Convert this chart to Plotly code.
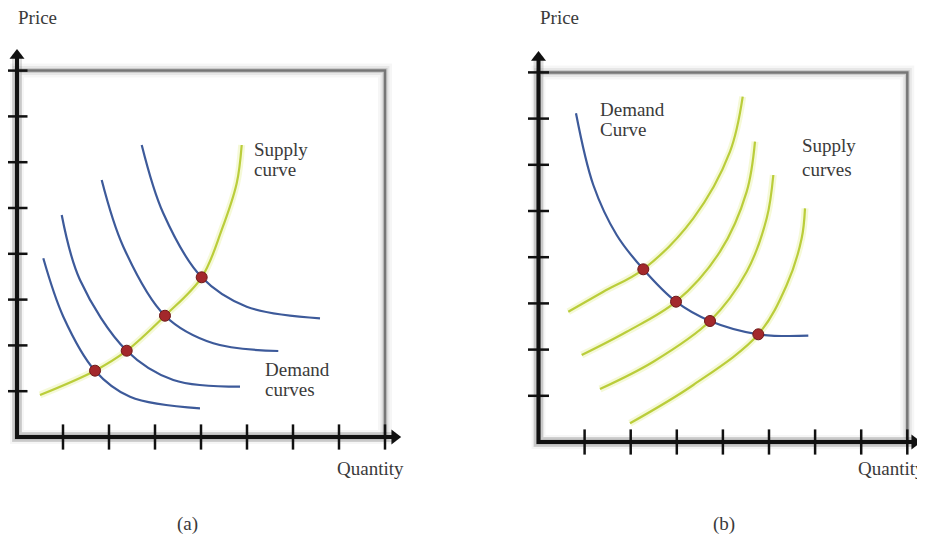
import plotly.graph_objects as go

# The page adds an 8px body margin, so the figure is drawn 8px smaller and
# all layout positions below are page pixels shifted by that margin.
PAGE_W, PAGE_H = 925, 538
OFF = 8
W, H = PAGE_W - OFF, PAGE_H - OFF

# ---------------- data (tick units) ----------------
tick_vals = [1, 2, 3, 4, 5, 6, 7, 8]

# Panel (a): one supply curve, four demand curves
supply_a_x = [0.50, 1.696, 2.385, 3.217, 4.015, 4.450, 4.776, 4.885]
supply_a_y = [0.917, 1.448, 1.884, 2.648, 3.487, 4.520, 5.539, 6.376]

d1_a_x = [0.572, 1.007, 1.696, 2.457, 3.978]
d1_a_y = [3.902, 2.627, 1.448, 0.880, 0.627]
d2_a_x = [0.972, 1.370, 2.385, 3.398, 4.848]
d2_a_y = [4.847, 3.428, 1.884, 1.245, 1.098]
d3_a_x = [1.841, 2.311, 3.217, 4.267, 5.680]
d3_a_y = [5.611, 4.155, 2.648, 2.046, 1.878]
d4_a_x = [2.711, 3.180, 4.015, 4.993, 6.587]
d4_a_y = [6.376, 4.884, 3.487, 2.845, 2.592]

eq_a_x = [1.696, 2.385, 3.217, 4.015]
eq_a_y = [1.448, 1.884, 2.648, 3.487]

# Panel (b): one demand curve, four supply curves
demand_b_x = [0.813, 1.189, 1.696, 2.273, 2.983, 3.720, 4.768, 5.853]
demand_b_y = [7.115, 5.563, 4.481, 3.738, 3.037, 2.619, 2.331, 2.301]

s1_b_x = [0.646, 1.406, 2.273, 3.358, 4.154, 4.430]
s1_b_y = [2.820, 3.253, 3.738, 4.842, 6.284, 7.474]
s2_b_x = [0.937, 1.913, 2.983, 3.937, 4.516, 4.696]
s2_b_y = [1.883, 2.387, 3.037, 4.119, 5.418, 6.500]
s3_b_x = [1.334, 2.490, 3.720, 4.516, 4.950, 5.094]
s3_b_y = [1.147, 1.738, 2.619, 3.686, 4.842, 5.779]
s4_b_x = [1.985, 3.358, 4.768, 5.384, 5.709, 5.781]
s4_b_y = [0.405, 1.234, 2.331, 3.398, 4.409, 5.058]

eq_b_x = [2.273, 2.983, 3.720, 4.768]
eq_b_y = [3.738, 3.037, 2.619, 2.331]

BOX = 8
Y_ARROW_A, X_ARROW_A = 8.45, 8.33
Y_ARROW_B, X_ARROW_B = 8.44, 8.28

# ---------------- styles ----------------
BLUE = "#3d5a9a"
GREEN = "#bacd3a"
GLOW = "rgba(225,238,140,0.35)"
RED = "#a3282b"
TEXT = "#3a3a3a"
FONT = "Liberation Serif"

fig = go.Figure()


def add_panel(xa, ya, y_tip, x_tip, blue_curves, green_curves, eq_x, eq_y):
    # axis halo
    fig.add_trace(go.Scatter(x=[0, 0, x_tip - 0.1], y=[y_tip - 0.1, 0, 0], mode="lines",
                             line=dict(color="rgba(0,0,0,0.13)", width=10),
                             xaxis=xa, yaxis=ya, hoverinfo="skip"))
    # axes
    fig.add_trace(go.Scatter(x=[0, 0, x_tip - 0.12], y=[y_tip - 0.12, 0, 0], mode="lines",
                             line=dict(color="#111111", width=4),
                             xaxis=xa, yaxis=ya, hoverinfo="skip"))
    fig.add_trace(go.Scatter(x=[0], y=[y_tip - 0.12], mode="markers",
                             marker=dict(symbol="triangle-up", size=13, color="#111111"),
                             xaxis=xa, yaxis=ya, hoverinfo="skip"))
    fig.add_trace(go.Scatter(x=[x_tip - 0.12], y=[0], mode="markers",
                             marker=dict(symbol="triangle-right", size=13, color="#111111"),
                             xaxis=xa, yaxis=ya, hoverinfo="skip"))
    # ticks
    fig.add_trace(go.Scatter(x=[0] * len(tick_vals), y=tick_vals, mode="markers",
                             marker=dict(symbol="line-ew", size=15,
                                         line=dict(color="#111111", width=2.5)),
                             xaxis=xa, yaxis=ya, hoverinfo="skip"))
    fig.add_trace(go.Scatter(x=tick_vals, y=[0] * len(tick_vals), mode="markers",
                             marker=dict(symbol="line-ns", size=18,
                                         line=dict(color="#111111", width=2.5)),
                             xaxis=xa, yaxis=ya, hoverinfo="skip"))
    # curves
    for cx, cy in green_curves:
        fig.add_trace(go.Scatter(x=cx, y=cy, mode="lines",
                                 line=dict(color=GLOW, width=7, shape="spline", smoothing=1),
                                 xaxis=xa, yaxis=ya, hoverinfo="skip"))
        fig.add_trace(go.Scatter(x=cx, y=cy, mode="lines",
                                 line=dict(color=GREEN, width=2.2, shape="spline", smoothing=1),
                                 xaxis=xa, yaxis=ya, hoverinfo="skip"))
    for cx, cy in blue_curves:
        fig.add_trace(go.Scatter(x=cx, y=cy, mode="lines",
                                 line=dict(color=BLUE, width=2.2, shape="spline", smoothing=1),
                                 xaxis=xa, yaxis=ya, hoverinfo="skip"))
    fig.add_trace(go.Scatter(x=eq_x, y=eq_y, mode="markers",
                             marker=dict(size=11, color=RED, line=dict(color="#6e1818", width=1)),
                             xaxis=xa, yaxis=ya, hoverinfo="skip"))
    # box with soft shadow
    for w, c in [(14, "rgba(0,0,0,0.035)"), (9, "rgba(0,0,0,0.06)"),
                 (5, "rgba(0,0,0,0.12)"), (2.5, "rgba(50,50,50,0.55)")]:
        fig.add_shape(type="rect", xref=xa, yref=ya, x0=0, y0=0, x1=BOX, y1=BOX,
                      line=dict(color=c, width=w), fillcolor="rgba(0,0,0,0)", layer="below")


add_panel("x", "y", Y_ARROW_A, X_ARROW_A,
          [(d1_a_x, d1_a_y), (d2_a_x, d2_a_y), (d3_a_x, d3_a_y), (d4_a_x, d4_a_y)],
          [(supply_a_x, supply_a_y)], eq_a_x, eq_a_y)
add_panel("x2", "y2", Y_ARROW_B, X_ARROW_B,
          [(demand_b_x, demand_b_y)],
          [(s1_b_x, s1_b_y), (s2_b_x, s2_b_y), (s3_b_x, s3_b_y), (s4_b_x, s4_b_y)],
          eq_b_x, eq_b_y)


def label(text, px, py, size=19, anchor="left"):
    # px, py: page pixels
    fig.add_annotation(text=text, x=(px - OFF) / W, y=1 - (py - OFF) / H,
                       xref="paper", yref="paper",
                       xanchor=anchor, yanchor="middle", showarrow=False, borderpad=0,
                       font=dict(family=FONT, size=size, color=TEXT))


label("Price", 17, 18)
label("Price", 539, 18)
label("Quantity", 336, 468)
label("Quantity", 857, 468)
label("Supply", 253, 149)
label("curve", 253, 169)
label("Demand", 264, 369)
label("curves", 264, 389)
label("Demand", 599, 110)
label("Curve", 599, 130)
label("Supply", 801, 146)
label("curves", 801, 169)
label("(a)", 187, 524, 19, "center")
label("(b)", 724, 524, 19, "center")

# axis ranges so that tick units land on the measured page pixels
SPLIT = 462 - OFF                      # figure px where the panels meet
xa_org, xa_unit = 17 - OFF, 46.0       # panel (a) origin / unit (px)
ya_org, ya_unit = 437 - OFF, 45.8
xb_org, xb_unit = 538.5 - OFF, 46.1    # panel (b)
yb_org, yb_unit = 442 - OFF, 46.2

ax_common = dict(visible=False, showgrid=False, zeroline=False, fixedrange=True)
fig.update_layout(
    width=W, height=H,
    margin=dict(l=0, r=0, t=0, b=0),
    paper_bgcolor="white", plot_bgcolor="white",
    showlegend=False,
    xaxis=dict(domain=[0, SPLIT / W],
               range=[-xa_org / xa_unit, (SPLIT - xa_org) / xa_unit], **ax_common),
    yaxis=dict(domain=[0, 1],
               range=[(ya_org - H) / ya_unit, ya_org / ya_unit], **ax_common),
    xaxis2=dict(domain=[SPLIT / W, 1], anchor="y2",
                range=[(SPLIT - xb_org) / xb_unit, (W - xb_org) / xb_unit], **ax_common),
    yaxis2=dict(domain=[0, 1], anchor="x2",
                range=[(yb_org - H) / yb_unit, yb_org / yb_unit], **ax_common),
)

fig.write_html("out.html")
